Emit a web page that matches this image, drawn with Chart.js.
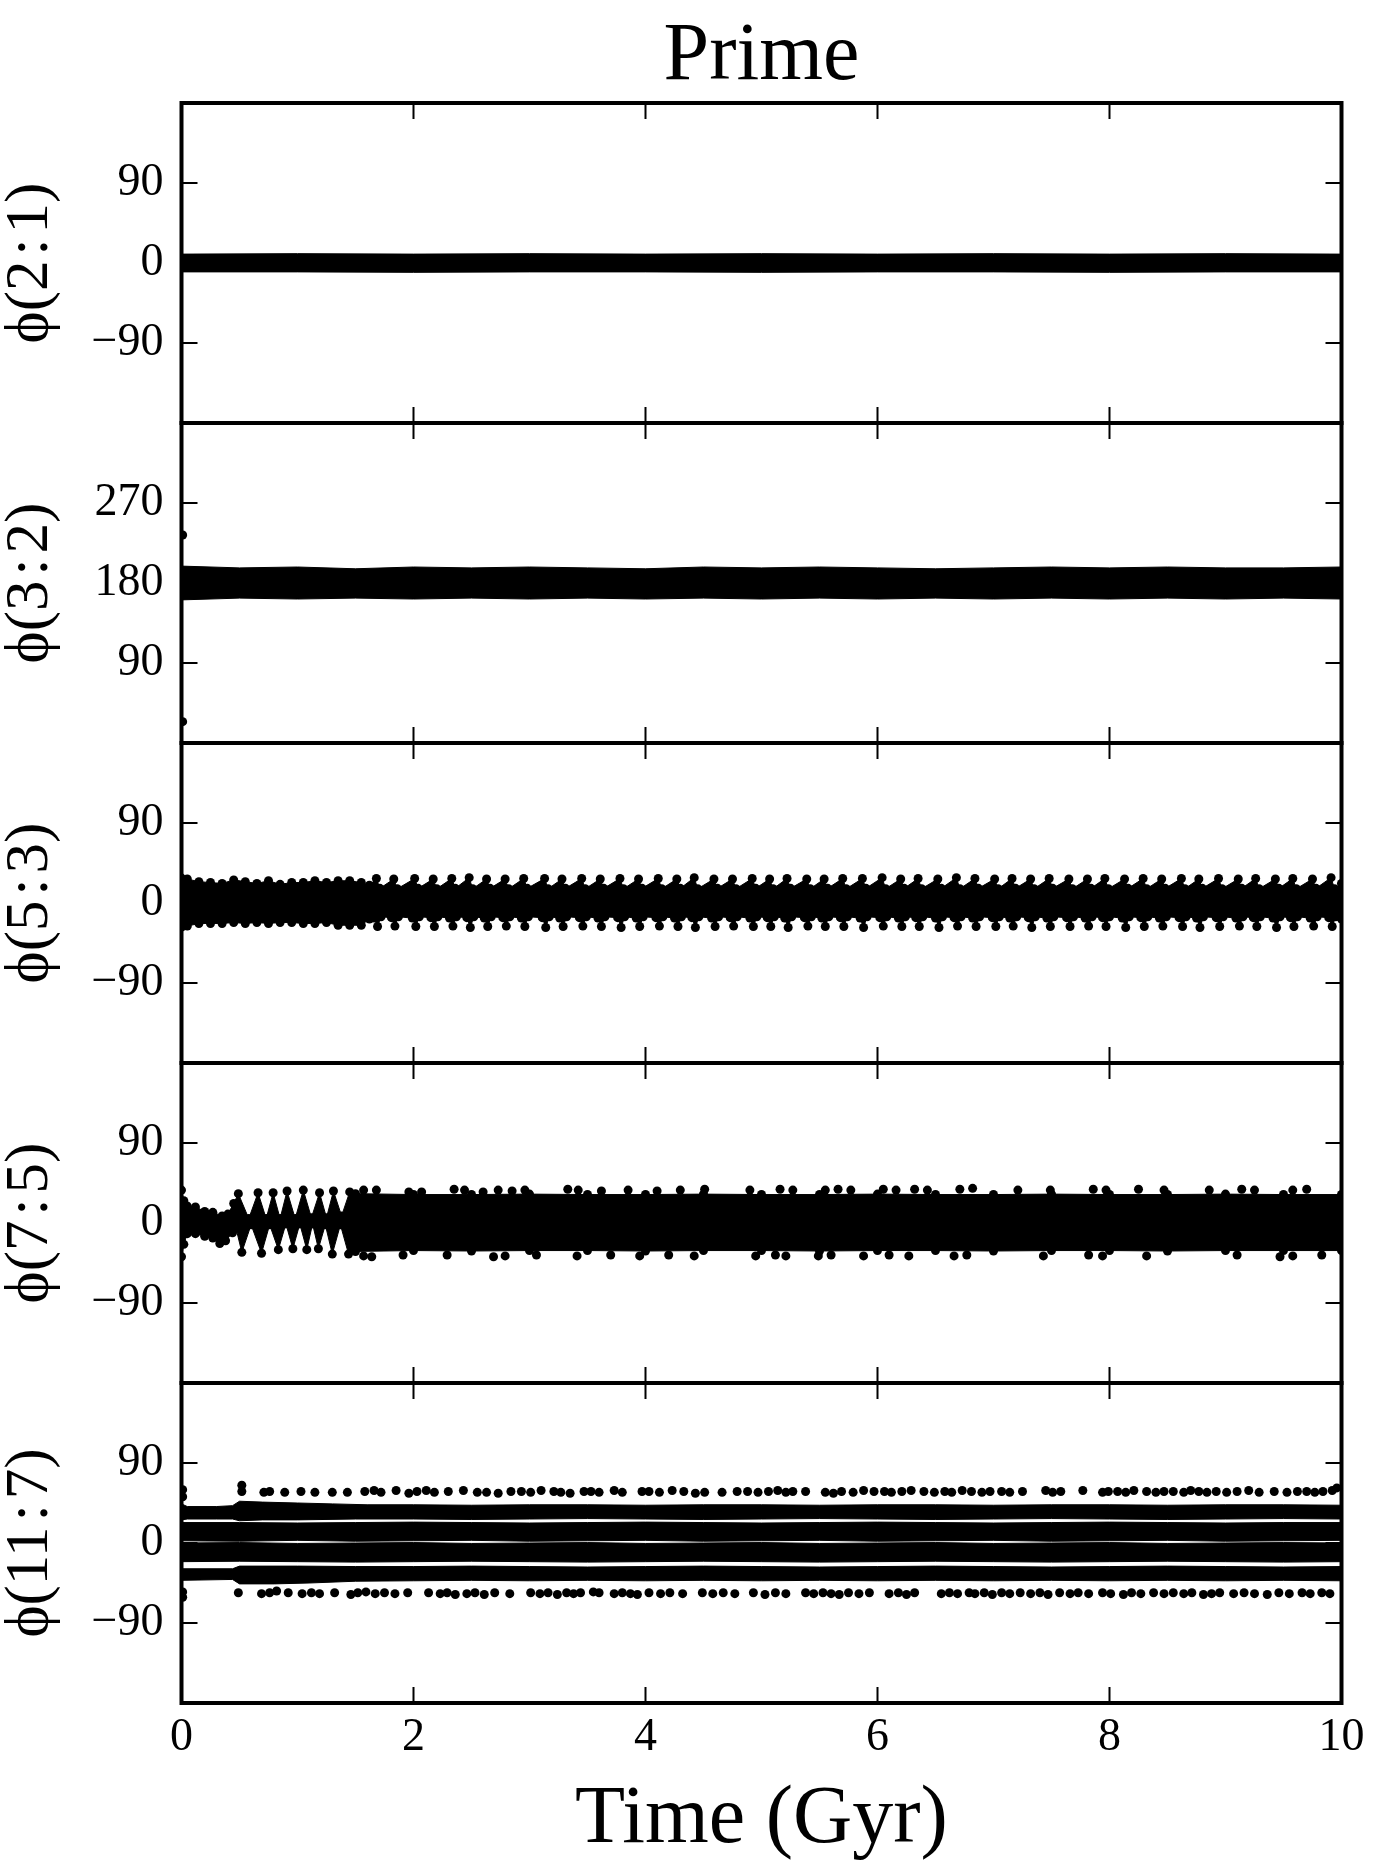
<!DOCTYPE html>
<html><head><meta charset="utf-8">
<script src="https://cdn.jsdelivr.net/npm/chart.js@4.4.1/dist/chart.umd.min.js"></script>
<style>
html,body{margin:0;padding:0;background:#fff;}
body{width:1374px;height:1868px;position:relative;overflow:hidden;}
canvas{position:absolute;left:0;}
</style></head><body>
<canvas id="c1" width="1374" height="435" style="top:0px"></canvas>
<canvas id="c2" width="1374" height="344" style="top:411px"></canvas>
<canvas id="c3" width="1374" height="344" style="top:731px"></canvas>
<canvas id="c4" width="1374" height="344" style="top:1051px"></canvas>
<canvas id="c5" width="1374" height="497" style="top:1371px"></canvas>
<script>
// ---------- texts & ticks ----------
const titleText = 'Prime';
const xLabel = 'Time (Gyr)';
const xTicks = [0, 2, 4, 6, 8, 10];
const yLabels = ['\u03D5(2\u200A:\u200A1)', '\u03D5(3\u200A:\u200A2)', '\u03D5(5\u200A:\u200A3)', '\u03D5(7\u200A:\u200A5)', '\u03D5(11\u200A:\u200A7)'];
const yTicks1 = [-90, 0, 90];
const yTicks2 = [90, 180, 270];
const yTicks3 = [-90, 0, 90];
const yTicks4 = [-90, 0, 90];
const yTicks5 = [-90, 0, 90];
const yRange1 = [-180, 180];
const yRange2 = [0, 360];
const yRange3 = [-180, 180];
const yRange4 = [-180, 180];
const yRange5 = [-180, 180];

// ---------- data: envelopes of the resonant-angle point clouds [time Gyr, angle deg] ----------
// phi(2:1)
const p1Upper = [[0,10],[1,10.5],[2,10],[3,10.5],[4,10],[5,10.5],[6,10],[7,10.5],[8,10],[9,10.5],[10,10]];
const p1Lower = [[0,-10],[1,-10],[2,-10.5],[3,-10],[4,-10],[5,-10.5],[6,-10],[7,-10],[8,-10.5],[9,-10],[10,-10]];

// phi(3:2)
const p2Upper = [[0,199],[0.5,197],[1,198],[1.5,196],[2,198],[2.5,197],[3,198],[3.5,197],[4,196],[4.5,198],[5,197],[5.5,198],[6,197],[6.5,196],[7,197],[7.5,198],[8,197],[8.5,198],[9,197],[9.5,197],[10,198]];
const p2Lower = [[0,161],[0.5,163],[1,162],[1.5,163],[2,162],[2.5,163],[3,162],[3.5,163],[4,162],[4.5,163],[5,162],[5.5,163],[6,162],[6.5,163],[7,162],[7.5,163],[8,162],[8.5,163],[9,162],[9.5,163],[10,162]];
const p2Outliers = [[0.01,234],[0.01,24]];

// phi(5:3)  (edge-point centres)
const p3Upper = [[0,28],[0.05,27],[0.15,24],[0.25,23],[0.35,22],[0.45,26],[0.55,24],[0.65,22],[0.75,25],[0.85,21],[0.95,23],[1.05,23],[1.15,25],[1.25,23],[1.35,25],[1.45,25],[1.55,23],[1.62,20],
[1.68,27.5],[1.71,16.5],[1.83,27],[1.86,16],[2.01,27.5],[2.04,16.5],[2.17,27],[2.20,16],[2.33,27.5],[2.36,16.5],[2.48,28.5],[2.51,16],[2.63,27],[2.66,16.5],[2.79,27],[2.82,16],[2.95,27.5],[2.98,16.5],
[3.13,27.5],[3.16,16],[3.28,27],[3.31,16.5],[3.45,27.5],[3.48,16],[3.61,27],[3.64,16.5],[3.78,27.5],[3.81,16],[3.94,27],[3.97,16.5],[4.11,27.5],[4.14,16],[4.27,27],[4.30,16.5],[4.42,28.5],[4.45,16],
[4.59,27],[4.62,16.5],[4.75,27],[4.78,16],[4.92,27.5],[4.95,16.5],[5.07,27],[5.10,16],[5.22,27.5],[5.25,16.5],[5.39,27],[5.42,16],[5.54,27],[5.57,16.5],[5.70,27.5],[5.73,16],[5.87,27.5],[5.90,16.5],
[6.04,28.5],[6.07,16],[6.20,27],[6.23,16.5],[6.35,27.5],[6.38,16],[6.52,27],[6.55,16.5],[6.68,28.5],[6.71,16],[6.84,27.5],[6.87,16.5],[7.01,27],[7.04,16],[7.16,27.5],[7.19,16.5],[7.32,27],[7.35,16],
[7.48,27.5],[7.51,16.5],[7.65,27],[7.68,16],[7.81,27],[7.84,16.5],[7.96,27.5],[7.99,16],[8.13,27],[8.16,16.5],[8.29,27.5],[8.32,16],[8.45,27],[8.48,16.5],[8.62,27.5],[8.65,16],[8.77,27],[8.80,16.5],
[8.94,27.5],[8.97,16],[9.11,27],[9.14,16.5],[9.26,27.5],[9.29,16],[9.43,27],[9.46,16.5],[9.58,27.5],[9.61,16],[9.75,27],[9.78,16.5],[9.91,28.5],[9.94,16],[10,22]];
const p3Lower = [[0,-27],[0.05,-26],[0.15,-23],[0.25,-23],[0.35,-23],[0.45,-22],[0.55,-23],[0.65,-22],[0.75,-23],[0.85,-22],[0.95,-22],[1.05,-23],[1.15,-23],[1.25,-22],[1.35,-25],[1.45,-25],[1.55,-25],[1.62,-18],
[1.66,-17],[1.69,-26.5],[1.72,-15.5],[1.81,-16.5],[1.84,-26],[1.87,-15.5],[1.99,-17],[2.02,-26.5],[2.05,-15.5],[2.15,-16.5],[2.18,-26.5],[2.21,-15.5],[2.31,-17],[2.34,-26],[2.37,-15.5],[2.46,-16.5],[2.49,-27.5],[2.52,-15.5],
[2.61,-17],[2.64,-26.5],[2.67,-15.5],[2.77,-16.5],[2.80,-26],[2.83,-15.5],[2.93,-17],[2.96,-26.5],[2.99,-15.5],[3.11,-16.5],[3.14,-27.5],[3.17,-15.5],[3.26,-17],[3.29,-26.5],[3.32,-15.5],[3.43,-16.5],[3.46,-26],[3.49,-15.5],
[3.59,-17],[3.62,-26.5],[3.65,-15.5],[3.76,-16.5],[3.79,-27.5],[3.82,-15.5],[3.92,-17],[3.95,-26.5],[3.98,-15.5],[4.09,-16.5],[4.12,-26],[4.15,-15.5],[4.25,-17],[4.28,-26.5],[4.31,-15.5],[4.40,-16.5],[4.43,-27.5],[4.46,-15.5],
[4.57,-17],[4.60,-26.5],[4.63,-15.5],[4.73,-16.5],[4.76,-26],[4.79,-15.5],[4.90,-17],[4.93,-26.5],[4.96,-15.5],[5.05,-16.5],[5.08,-26.5],[5.11,-15.5],[5.20,-17],[5.23,-27.5],[5.26,-15.5],[5.37,-16.5],[5.40,-26],[5.43,-15.5],
[5.52,-17],[5.55,-26.5],[5.58,-15.5],[5.68,-16.5],[5.71,-26.5],[5.74,-15.5],[5.85,-17],[5.88,-27.5],[5.91,-15.5],[6.02,-16.5],[6.05,-26],[6.08,-15.5],[6.18,-17],[6.21,-26.5],[6.24,-15.5],[6.33,-16.5],[6.36,-26.5],[6.39,-15.5],
[6.50,-17],[6.53,-27.5],[6.56,-15.5],[6.66,-16.5],[6.69,-26],[6.72,-15.5],[6.82,-17],[6.85,-26.5],[6.88,-15.5],[6.99,-16.5],[7.02,-26.5],[7.05,-15.5],[7.14,-17],[7.17,-26],[7.20,-15.5],[7.30,-16.5],[7.33,-27.5],[7.36,-15.5],
[7.46,-17],[7.49,-26.5],[7.52,-15.5],[7.63,-16.5],[7.66,-26.5],[7.69,-15.5],[7.79,-17],[7.82,-26],[7.85,-15.5],[7.94,-16.5],[7.97,-26.5],[8.00,-15.5],[8.11,-17],[8.14,-27.5],[8.17,-15.5],[8.27,-16.5],[8.30,-26.5],[8.33,-15.5],
[8.43,-17],[8.46,-26],[8.49,-15.5],[8.60,-16.5],[8.63,-26.5],[8.66,-15.5],[8.75,-17],[8.78,-27.5],[8.81,-15.5],[8.92,-16.5],[8.95,-26.5],[8.98,-15.5],[9.09,-17],[9.12,-26],[9.15,-15.5],[9.24,-16.5],[9.27,-26.5],[9.30,-15.5],
[9.41,-17],[9.44,-27.5],[9.47,-15.5],[9.56,-16.5],[9.59,-26.5],[9.62,-15.5],[9.73,-17],[9.76,-26],[9.79,-15.5],[9.89,-16.5],[9.92,-26.5],[9.95,-15.5],[10,-18]];

// phi(7:5)  (edge-point centres)
const p4Upper = [[0,37],[0.02,25],[0.05,19],[0.12,18],[0.2,13],[0.27,12],[0.35,8],[0.40,10],[0.45,22],[0.49,33],[0.58,5],[0.66,34],[0.73,5],[0.79,34],[0.85,5],[0.91,36],[0.98,5],[1.05,37],[1.12,6],[1.19,34],[1.25,6],[1.31,36],[1.38,8],[1.45,35],[1.5,33],
[2,32],[2.5,32],[3,32.5],[3.5,32],[4,32],[4.5,32.5],[5,32],[5.5,32],[6,32.5],[6.5,32],[7,32],[7.5,32.5],[8,32],[8.5,32],[9,32.5],[9.5,32],[10,32]];
const p4Lower = [[0,-38],[0.02,-24],[0.05,-12],[0.12,-12],[0.2,-15],[0.27,-17],[0.33,-23],[0.38,-20],[0.44,-11],[0.47,-6],[0.52,-33],[0.60,-2],[0.69,-34],[0.76,-2],[0.835,-30],[0.90,-1],[0.96,-29],[1.02,-1],[1.08,-30],[1.13,-1],[1.18,-29],[1.24,-2],[1.30,-35],[1.37,-2],[1.44,-35],[1.5,-32],
[2,-31],[2.5,-31.5],[3,-31],[3.5,-31],[4,-31.5],[4.5,-31],[5,-31],[5.5,-31.5],[6,-31],[6.5,-31],[7,-31.5],[7.5,-31],[8,-31],[8.5,-31.5],[9,-31],[9.5,-31],[10,-31]];
const p4TopDots = [[1.57,37],[1.68,37],[1.96,35],[2.07,35],[2.35,38],[2.44,37],[2.60,35],[2.73,37],[2.85,36],[2.96,37],[3.33,38],[3.42,37],[3.62,36],[3.85,37],[4.10,36],[4.30,37],[4.51,38],[4.90,37],[5.16,38],[5.27,37],
[5.55,37],[5.66,38],[5.77,37],[6.05,38],[6.16,37],[6.32,38],[6.43,37],[6.71,38],[6.82,39],[7.21,37],[7.49,37],[7.86,38],[7.97,37],[8.25,38],[8.47,37],[8.86,37],[9.14,38],[9.25,37],[9.58,37],[9.70,38]];
const p4BottomDots = [[1.57,-37],[1.64,-38],[1.91,-36],[2.29,-36],[2.69,-38],[2.79,-37],[3.06,-36],[3.41,-37],[3.70,-36],[3.95,-37],[4.20,-36],[4.42,-37],[4.95,-37],[5.12,-36],[5.21,-37],[5.49,-37],[5.60,-36],[5.88,-37],[6.10,-36],[6.27,-37],
[6.66,-37],[6.77,-36],[7.43,-37],[7.82,-36],[7.94,-37],[8.32,-37],[9.10,-36],[9.47,-38],[9.58,-37],[9.83,-36]];

// phi(11:7)
const p5ATop = [[0,44],[0.05,41],[0.3,41],[0.44,42],[0.5,47],[0.7,46],[1.0,45],[1.3,44],[1.6,43],[2,43],[2.5,42.5],[3,43],[3.5,43],[4,42.5],[4.5,43],[5,43],[5.5,42.5],[6,43],[6.5,43],[7,42.5],[7.5,43],[8,43],[8.5,42.5],[9,43],[9.5,43],[10,42.5]];
const p5ABottom = [[0,26],[0.05,27],[0.3,27],[0.44,27],[0.5,25],[0.7,26],[1.0,26],[1.5,27],[2,27],[2.5,26.5],[3,27],[3.5,27.5],[4,27],[4.5,26.5],[5,27],[5.5,27.5],[6,27],[6.5,26.5],[7,27],[7.5,27.5],[8,27],[8.5,26.5],[9,27],[9.5,27.5],[10,27]];
const p5BTop = [[0,23],[0.5,23],[1,22.5],[1.5,23],[2,23.5],[2.5,23],[3,22.5],[3.5,23],[4,23.5],[4.5,23],[5,22.5],[5.5,23],[6,23.5],[6.5,23],[7,22.5],[7.5,23],[8,23.5],[8.5,23],[9,22.5],[9.5,23],[10,23]];
const p5BBottom = [[0,2.5],[0.5,2],[1,3],[1.5,2],[2,2.5],[2.5,3],[3,2],[3.5,2.5],[4,3],[4.5,2],[5,2.5],[5.5,3],[6,2],[6.5,2.5],[7,3],[7.5,2],[8,2.5],[8.5,3],[9,2],[9.5,2.5],[10,3]];
const p5CTop = [[0,0],[0.5,0.5],[1,-0.5],[1.5,0],[2,0.5],[2.5,-0.5],[3,0],[3.5,0.5],[4,-0.5],[4.5,0],[5,0.5],[5.5,-0.5],[6,0],[6.5,0.5],[7,-0.5],[7.5,0],[8,0.5],[8.5,-0.5],[9,0],[9.5,0.5],[10,0]];
const p5CBottom = [[0,-21],[0.5,-20.5],[1,-21],[1.5,-21.5],[2,-21],[2.5,-20.5],[3,-21],[3.5,-21.5],[4,-21],[4.5,-20.5],[5,-21],[5.5,-21.5],[6,-21],[6.5,-20.5],[7,-21],[7.5,-21.5],[8,-21],[8.5,-20.5],[9,-21],[9.5,-21.5],[10,-21]];
const p5DTop = [[0,-29],[0.44,-29],[0.5,-26],[1,-26],[1.5,-26.5],[2,-26.5],[2.5,-26],[3,-26.5],[3.5,-27],[4,-26.5],[4.5,-26],[5,-26.5],[5.5,-27],[6,-26.5],[6.5,-26],[7,-26.5],[7.5,-27],[8,-26.5],[8.5,-26],[9,-26.5],[9.5,-27],[10,-26.5]];
const p5DBottom = [[0,-42],[0.44,-41],[0.5,-46],[0.8,-46],[1.1,-45],[1.5,-43],[2,-42.5],[2.5,-42],[3,-42.5],[3.5,-42],[4,-42.5],[4.5,-42],[5,-42.5],[5.5,-42],[6,-42.5],[6.5,-42],[7,-42.5],[7.5,-42],[8,-42.5],[8.5,-42],[9,-42.5],[9.5,-42],[10,-42.5]];
const p5UpperDots = [[0.01,60],[0.01,52],[0.52,65],[0.52,58],[0.71,57],[0.76,58],[0.89,57],[1.03,58],[1.15,57],[1.30,57],[1.43,57],[1.58,58],[1.66,59],[1.72,57],[1.85,59],[1.96,56],[2.03,58],[2.11,59],[2.18,57],[2.30,58],
[2.43,59],[2.55,57],[2.63,57],[2.73,56],[2.84,58],[2.93,58],[3.01,57],[3.10,59],[3.21,58],[3.27,57],[3.35,56],[3.47,58],[3.53,58],[3.60,57],[3.73,59],[3.80,57],[3.97,58],[4.03,58],[4.12,57],[4.23,59],
[4.33,58],[4.43,56],[4.51,57],[4.66,57],[4.79,58],[4.88,58],[4.97,57],[5.06,58],[5.14,59],[5.21,57],[5.27,58],[5.38,58],[5.55,57],[5.62,56],[5.69,58],[5.79,57],[5.88,59],[5.97,58],[6.06,58],[6.12,57],
[6.21,58],[6.29,59],[6.40,58],[6.49,57],[6.58,58],[6.64,57],[6.73,59],[6.81,58],[6.90,57],[6.97,58],[7.07,58],[7.14,57],[7.25,58],[7.45,59],[7.51,57],[7.58,58],[7.77,59],[7.94,57],[7.99,58],[8.07,58],
[8.14,57],[8.21,59],[8.32,58],[8.40,57],[8.47,58],[8.55,58],[8.64,57],[8.70,59],[8.77,58],[8.84,57],[8.92,58],[9.01,57],[9.10,58],[9.20,59],[9.29,57],[9.42,58],[9.53,57],[9.62,58],[9.70,58],[9.77,57],
[9.84,58],[9.92,59],[9.96,62]];
const p5LowerDots = [[0.01,-55],[0.01,-61],[0.49,-56],[0.69,-57],[0.76,-56],[0.82,-54],[0.92,-56],[1.04,-57],[1.12,-56],[1.19,-57],[1.32,-56],[1.46,-58],[1.52,-56],[1.59,-55],[1.67,-57],[1.75,-56],[1.84,-57],[1.95,-56],
[2.13,-56],[2.23,-57],[2.29,-56],[2.36,-58],[2.46,-57],[2.53,-56],[2.61,-58],[2.70,-56],[2.83,-57],[3.01,-56],[3.09,-57],[3.16,-56],[3.24,-58],[3.32,-56],[3.38,-57],[3.44,-56],[3.55,-55],[3.60,-56],
[3.73,-57],[3.80,-56],[3.87,-57],[3.93,-58],[4.03,-56],[4.13,-57],[4.21,-56],[4.32,-57],[4.49,-56],[4.58,-57],[4.67,-56],[4.77,-57],[4.93,-56],[5.03,-58],[5.12,-56],[5.21,-57],[5.38,-56],[5.45,-57],
[5.53,-56],[5.60,-57],[5.67,-58],[5.75,-56],[5.84,-57],[5.93,-56],[6.10,-57],[6.18,-56],[6.25,-58],[6.32,-56],[6.55,-57],[6.62,-56],[6.69,-57],[6.79,-56],[6.84,-57],[6.92,-56],[6.99,-58],[7.07,-56],
[7.14,-57],[7.23,-56],[7.32,-57],[7.40,-56],[7.47,-58],[7.57,-56],[7.66,-57],[7.73,-56],[7.82,-57],[7.94,-56],[8.01,-57],[8.12,-58],[8.19,-56],[8.27,-57],[8.38,-56],[8.47,-57],[8.55,-56],[8.64,-57],
[8.71,-56],[8.81,-58],[8.88,-57],[8.95,-56],[9.07,-57],[9.16,-56],[9.25,-57],[9.36,-58],[9.46,-56],[9.55,-57],[9.66,-56],[9.73,-57],[9.83,-56],[9.90,-57]];

// ---------- builders ----------
const FONT = "'Liberation Serif','Times New Roman',serif";
const DOT = 4.5;
const toPts = arr => arr.map(([x, y]) => ({x, y}));
function band(upper, lower, r) {
  const pr = r || 0;
  const common = {borderColor: '#000', backgroundColor: '#000', borderWidth: 1, pointRadius: pr,
                  pointBackgroundColor: '#000', pointBorderWidth: 0, tension: 0, clip: 0};
  return [
    Object.assign({data: toPts(upper), fill: '+1'}, common),
    Object.assign({data: toPts(lower), fill: false}, common)
  ];
}
function dots(arr) {
  return {data: toPts(arr), showLine: false, pointRadius: DOT, pointBackgroundColor: '#000', pointBorderWidth: 0, borderWidth: 0, fill: false, clip: 0};
}

const framePlugin = {
  id: 'frame',
  afterDatasetsDraw(chart, args, opts) {
    const {ctx, chartArea: a} = chart;
    const xs = chart.scales.x, ys = chart.scales.y;
    const L = 16;
    ctx.save();
    ctx.strokeStyle = '#000';
    ctx.lineWidth = 2;
    ctx.beginPath();
    for (const v of xTicks) {
      const px = xs.getPixelForValue(v);
      ctx.moveTo(px, a.top); ctx.lineTo(px, a.top + L);
      ctx.moveTo(px, a.bottom); ctx.lineTo(px, a.bottom - L);
    }
    for (const v of opts.yTicks) {
      const py = ys.getPixelForValue(v);
      ctx.moveTo(a.left, py); ctx.lineTo(a.left + L, py);
      ctx.moveTo(a.right, py); ctx.lineTo(a.right - L, py);
    }
    ctx.stroke();
    ctx.lineWidth = 4;
    ctx.strokeRect(a.left, a.top, a.right - a.left, a.bottom - a.top);
    ctx.restore();
  }
};

const fmt = v => (v < 0 ? '\u2212' + (-v) : String(v));

function panel(id, datasets, yLabel, yTicks, yRange, opt) {
  const bottom = !!opt.bottom;
  const top = !!opt.top;
  return new Chart(document.getElementById(id), {
    type: 'line',
    data: {datasets},
    options: {
      responsive: false,
      animation: false,
      events: [],
      layout: {padding: {top: top ? 0 : 12, bottom: bottom ? 0 : 12, left: 0, right: 32.5}},
      plugins: {
        legend: {display: false},
        tooltip: {enabled: false},
        title: {display: top, text: titleText, color: '#000', fullSize: false,
                font: {family: FONT, size: 82, weight: 'normal', lineHeight: 1},
                padding: {top: 16, bottom: 5}},
        frame: {yTicks}
      },
      scales: {
        x: {
          type: 'linear', min: 0, max: 10,
          afterBuildTicks: s => { s.ticks = xTicks.map(v => ({value: v})); },
          ticks: {display: bottom, color: '#000', padding: 12, maxRotation: 0, autoSkip: false,
                  font: {family: FONT, size: 46, lineHeight: 1}, callback: v => fmt(v)},
          grid: {display: false, drawTicks: false}, border: {display: false},
          title: {display: bottom, text: xLabel, color: '#000',
                  font: {family: FONT, size: 82, lineHeight: 1}, padding: {top: 0, bottom: 7}},
          afterFit: s => { s.height = bottom ? 165 : 0; s.paddingLeft = 0; s.paddingRight = 0; }
        },
        y: {
          type: 'linear', min: yRange[0], max: yRange[1],
          afterBuildTicks: s => { s.ticks = yTicks.map(v => ({value: v})); },
          ticks: {color: '#000', padding: 18, font: {family: FONT, size: 46, lineHeight: 1}, callback: v => fmt(v)},
          grid: {display: false, drawTicks: false}, border: {display: false},
          title: {display: true, text: yLabel, color: '#000',
                  font: {family: FONT, size: 61, lineHeight: 1}, padding: {top: 0, bottom: 0}},
          afterFit: s => { s.width = 181.5; s.paddingTop = 0; s.paddingBottom = 0; }
        }
      }
    },
    plugins: [framePlugin]
  });
}

panel('c1', band(p1Upper, p1Lower), yLabels[0], yTicks1, yRange1, {top: true});
panel('c2', [...band(p2Upper, p2Lower), dots(p2Outliers)], yLabels[1], yTicks2, yRange2, {});
panel('c3', band(p3Upper, p3Lower, DOT), yLabels[2], yTicks3, yRange3, {});
panel('c4', [...band(p4Upper, p4Lower, DOT), dots(p4TopDots), dots(p4BottomDots)], yLabels[3], yTicks4, yRange4, {});
panel('c5', [...band(p5ATop, p5ABottom), ...band(p5BTop, p5BBottom), ...band(p5CTop, p5CBottom), ...band(p5DTop, p5DBottom),
             dots(p5UpperDots), dots(p5LowerDots)], yLabels[4], yTicks5, yRange5, {bottom: true});
</script>
</body></html>
